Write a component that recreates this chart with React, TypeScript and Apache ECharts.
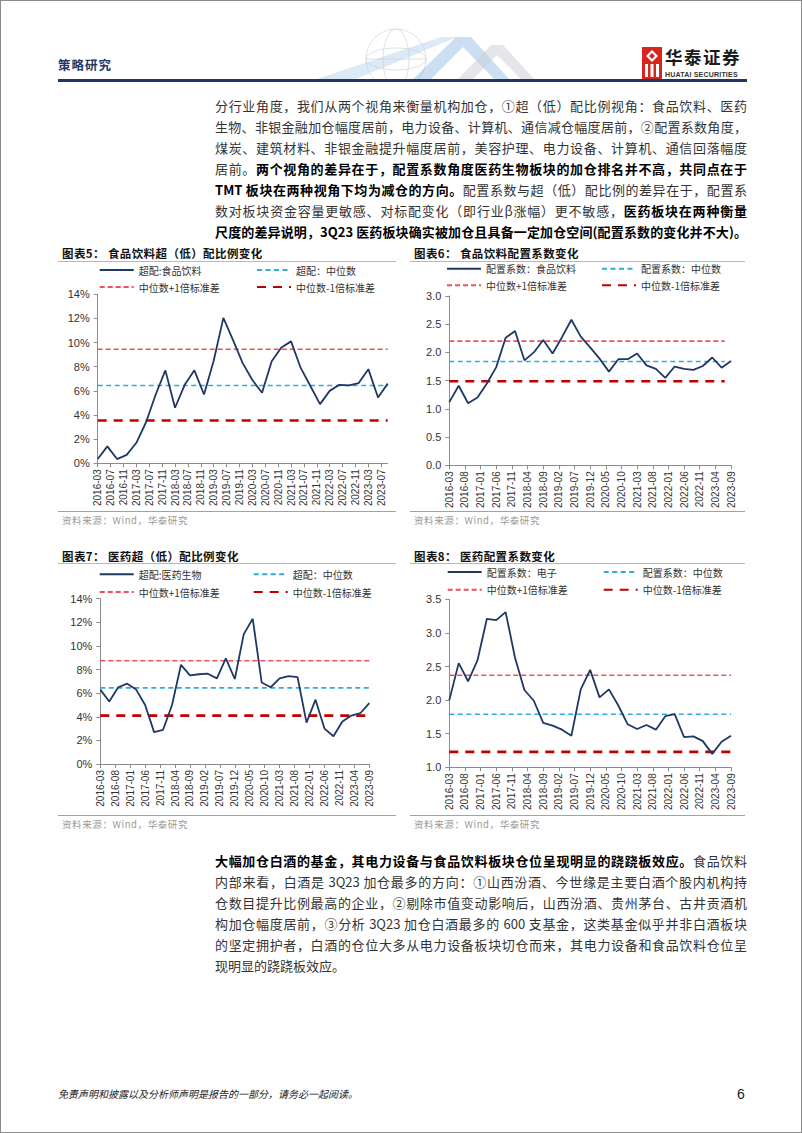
import React, { useEffect, useRef } from "react";
import * as echarts from "echarts";

// ---------------- data ----------------
const quarters = [
  "2016-03", "2016-06", "2016-09", "2016-12",
  "2017-03", "2017-06", "2017-09", "2017-12",
  "2018-03", "2018-06", "2018-09", "2018-12",
  "2019-03", "2019-06", "2019-09", "2019-12",
  "2020-03", "2020-06", "2020-09", "2020-12",
  "2021-03", "2021-06", "2021-09", "2021-12",
  "2022-03", "2022-06", "2022-09", "2022-12",
  "2023-03", "2023-06", "2023-09",
];

// 图表5 食品饮料超（低）配比例 (%)
const foodOverweight = [
  0.35, 1.4, 0.35, 0.7, 1.7, 3.4, 5.7, 7.7, 4.6, 6.5, 7.7, 5.7, 8.5, 12.05, 10.2, 8.3,
  6.9, 5.85, 8.45, 9.6, 10.1, 7.9, 6.4, 4.9, 6.0, 6.5, 6.45, 6.65, 7.8, 5.45, 6.6,
];
const foodOverweightRefs = [6.45, 9.45, 3.55]; // 中位数, +1σ, -1σ

// 图表6 食品饮料配置系数
const foodCoef = [
  1.12, 1.41, 1.1, 1.2, 1.45, 1.74, 2.26, 2.38, 1.86, 2.0, 2.22, 1.98, 2.27, 2.58, 2.28, 2.09,
  1.89, 1.66, 1.88, 1.88, 1.98, 1.77, 1.71, 1.55, 1.75, 1.71, 1.69, 1.76, 1.91, 1.73, 1.85,
];
const foodCoefRefs = [1.84, 2.2, 1.49];

// 图表7 医药超（低）配比例 (%)
const pharmaOverweight = [
  6.3, 5.3, 6.5, 6.8, 6.3, 5.0, 2.7, 2.9, 5.0, 8.4, 7.5, 7.6, 7.65, 7.25, 8.95, 7.2,
  11.0, 12.3, 6.9, 6.5, 7.25, 7.45, 7.35, 3.5, 5.45, 3.0, 2.35, 3.6, 4.1, 4.3, 5.15,
];
const pharmaOverweightRefs = [6.45, 8.75, 4.1];

// 图表8 医药配置系数
const pharmaCoef = [
  2.0, 2.55, 2.28, 2.59, 3.21, 3.19, 3.31, 2.63, 2.15, 1.99, 1.66, 1.62, 1.56, 1.47, 2.16, 2.45,
  2.04, 2.16, 1.92, 1.64, 1.57, 1.63, 1.56, 1.76, 1.79, 1.45, 1.46, 1.39, 1.2, 1.38, 1.47,
];
const pharmaCoefRefs = [1.79, 2.37, 1.23];

const legend5 = ["超配:食品饮料", "超配：中位数", "中位数+1倍标准差", "中位数-1倍标准差"];
const legend6 = ["配置系数：食品饮料", "配置系数：中位数", "中位数+1倍标准差", "中位数-1倍标准差"];
const legend7 = ["超配:医药生物", "超配：中位数", "中位数+1倍标准差", "中位数-1倍标准差"];
const legend8 = ["配置系数：电子", "配置系数：中位数", "中位数+1倍标准差", "中位数-1倍标准差"];

// monthly category axis 2016-03 … 2023-09
const months: string[] = [];
{
  let y = 2016;
  let m = 3;
  while (y < 2023 || (y === 2023 && m <= 9)) {
    months.push(`${y}-${String(m).padStart(2, "0")}`);
    m++;
    if (m > 12) {
      m = 1;
      y++;
    }
  }
}

// ---------------- styles ----------------
const NAVY = "#1F3864";
const LBLUE = "#2FAADF";
const PINK = "#F24F5A";
const DRED = "#C00000";
const FONT_CJK = '"Noto Sans CJK SC", "Noto Sans", sans-serif';
const FONT_NUM = '"Liberation Sans", Arial, sans-serif';

type ChartCfg = {
  box: number[];
  plot: number[];
  interval: number;
  yMin: number;
  yMax: number;
  yStep: number;
  pct: boolean;
  values: number[];
  refs: number[];
  names: string[];
  legendRows: number[];
  legendCols: number[];
  refEnd: string;
};

const charts: ChartCfg[] = [
  {
    box: [57, 256, 343, 252],
    plot: [96.7, 293.3, 386.7, 464.3],
    interval: 3, yMin: 0, yMax: 14, yStep: 2, pct: true,
    values: foodOverweight, refs: foodOverweightRefs, names: legend5,
    legendRows: [269, 286], legendCols: [97.7, 255], refEnd: "2023-09",
  },
  {
    box: [405, 256, 345, 254],
    plot: [448.3, 295, 730, 467.3],
    interval: 4, yMin: 0, yMax: 3, yStep: 0.5, pct: false,
    values: foodCoef, refs: foodCoefRefs, names: legend6,
    legendRows: [267.7, 284.3], legendCols: [445, 600], refEnd: "2023-07",
  },
  {
    box: [57, 562, 343, 250],
    plot: [99.3, 597.7, 368.3, 763],
    interval: 4, yMin: 0, yMax: 14, yStep: 2, pct: true,
    values: pharmaOverweight, refs: pharmaOverweightRefs, names: legend7,
    legendRows: [573.3, 591], legendCols: [97.7, 251.7], refEnd: "2023-09",
  },
  {
    box: [405, 562, 345, 250],
    plot: [448.3, 598.3, 730, 767.3],
    interval: 4, yMin: 1, yMax: 3.5, yStep: 0.5, pct: false,
    values: pharmaCoef, refs: pharmaCoefRefs, names: legend8,
    legendRows: [571, 588.7], legendCols: [445.7, 601.7], refEnd: "2023-09",
  },
];

function buildOption(c: ChartCfg) {
  const [bx, by, bw, bh] = c.box;
  const [pl, pt, pr, pb] = c.plot;
  const styles: any[] = [
    { color: NAVY, width: 1.8, type: "solid" },
    { color: LBLUE, width: 1.6, type: [5, 3.5] },
    { color: PINK, width: 1.6, type: [5, 3] },
    { color: DRED, width: 2.6, type: [9, 7] },
  ];
  const series = c.names.map((name, i) => ({
    name,
    type: "line",
    symbol: "none",
    showSymbol: false,
    silent: true,
    data:
      i === 0
        ? quarters.map((d, k) => [d, c.values[k]])
        : [
            [quarters[0], c.refs[i - 1]],
            [c.refEnd, c.refs[i - 1]],
          ],
    lineStyle: styles[i],
    itemStyle: { color: styles[i].color },
    z: i === 0 ? 5 : 3,
  }));
  const legend = c.names.map((name, i) => ({
    data: [name],
    left: c.legendCols[i % 2] - bx,
    top: c.legendRows[Math.floor(i / 2)] - by - 5,
    padding: 0,
    orient: "horizontal",
    itemWidth: 34,
    itemHeight: 10,
    selectedMode: false,
    itemStyle: { opacity: 0 },
    textStyle: { fontSize: 10, color: "#333", fontFamily: FONT_CJK },
  }));
  return {
    animation: false,
    backgroundColor: "transparent",
    legend,
    grid: { left: pl - bx, top: pt - by, right: bx + bw - pr, bottom: by + bh - pb, containLabel: false },
    xAxis: {
      type: "category",
      data: months,
      boundaryGap: false,
      axisLine: { show: true, lineStyle: { color: "#8c8c8c", width: 1 } },
      axisTick: { show: true, interval: c.interval, length: 4, lineStyle: { color: "#8c8c8c" } },
      axisLabel: {
        interval: c.interval,
        rotate: 90,
        fontSize: 10,
        color: "#333",
        fontFamily: FONT_NUM,
        margin: 6,
      },
      splitLine: { show: false },
    },
    yAxis: {
      type: "value",
      min: c.yMin,
      max: c.yMax,
      interval: c.yStep,
      axisLine: { show: true, lineStyle: { color: "#8c8c8c", width: 1 } },
      axisTick: { show: true, length: 4, lineStyle: { color: "#8c8c8c" } },
      axisLabel: {
        formatter: (v: number) => (c.pct ? `${v}%` : v.toFixed(1)),
        fontSize: 11,
        color: "#333",
        fontFamily: FONT_NUM,
        margin: 8,
      },
      splitLine: { show: false },
    },
    series,
  };
}

function LineChart({ cfg }: { cfg: ChartCfg }) {
  const ref = useRef<HTMLDivElement>(null);
  useEffect(() => {
    const chart = echarts.init(ref.current as HTMLDivElement, null, { renderer: "svg" });
    chart.setOption(buildOption(cfg) as any);
    return () => chart.dispose();
  }, [cfg]);
  return (
    <div
      ref={ref}
      style={{
        position: "absolute",
        left: cfg.box[0],
        top: cfg.box[1],
        width: cfg.box[2],
        height: cfg.box[3],
      }}
    />
  );
}

// ---------------- text helpers ----------------
const abs = (left: number, top: number, extra: React.CSSProperties = {}): React.CSSProperties => ({
  position: "absolute",
  left,
  top,
  ...extra,
});

function TextLine({ cy, children, justify = true }: { cy: number; children: React.ReactNode; justify?: boolean }) {
  return (
    <div
      style={abs(214, cy - 10.5, {
        width: 532,
        height: 21,
        lineHeight: "21px",
        fontSize: 13,
        fontFamily: FONT_CJK,
        color: "#333",
        textAlign: justify ? "justify" : "left",
        textAlignLast: justify ? "justify" : "left",
        whiteSpace: "nowrap",
      })}
    >
      {children}
    </div>
  );
}

const B = ({ children }: { children: React.ReactNode }) => (
  <span style={{ fontWeight: 700, color: "#000" }}>{children}</span>
);

function ChartFrame({ x, w, titleY, ruleY, bottomY, title }: { x: number; w: number; titleY: number; ruleY: number; bottomY: number; title: string }) {
  return (
    <>
      <div
        style={abs(x + 4, titleY - 8, {
          fontSize: 11.5,
          lineHeight: "16px",
          fontWeight: 700,
          fontFamily: FONT_CJK,
          color: "#111",
          whiteSpace: "nowrap",
          letterSpacing: 0.4,
        })}
      >
        {title}
      </div>
      <div style={abs(x, ruleY, { width: w, height: 1, background: "#A9BBDB" })} />
      <div style={abs(x, bottomY, { width: w, height: 1.5, background: "#8DA5CE" })} />
      <div
        style={abs(x + 4, bottomY + 2, {
          fontSize: 9.5,
          lineHeight: "14px",
          fontFamily: FONT_CJK,
          color: "#999",
          whiteSpace: "nowrap",
          letterSpacing: 0.6,
        })}
      >
        资料来源：Wind，华泰研究
      </div>
    </>
  );
}

export default function App() {
  const p1 = [104.5, 125.5, 146.5, 167.5, 188.5, 209.5, 230];
  const p2 = [859, 880, 901, 922, 943, 964];
  return (
    <div
      style={{
        position: "absolute",
        left: 0,
        top: 0,
        width: 802,
        height: 1133,
        background: "#fff",
        border: "1px solid #8a8a8a",
        boxSizing: "border-box",
        overflow: "hidden",
        fontFamily: FONT_CJK,
      }}
    >
      {/* header decoration */}
      <svg style={abs(290, 22, { width: 250, height: 58 })} viewBox="0 0 250 58">
        <g fill="none" stroke="#d4d8de" strokeWidth="0.8">
          <circle cx="105" cy="36" r="30" />
          <ellipse cx="105" cy="36" rx="30" ry="11" />
          <ellipse cx="105" cy="36" rx="13" ry="30" />
          <line x1="75" y1="36" x2="135" y2="36" />
        </g>
        <polygon points="20,58 150,14 166,14 60,58" fill="#B9D3EE" opacity="0.5" />
        <polygon points="120,58 165,14 180,14 220,58 205,58 172,24 138,58" fill="#7FB0DE" opacity="0.4" />
        <polygon points="165,58 200,22 212,22 245,58 232,58 206,32 180,58" fill="#C9CDD6" opacity="0.5" />
      </svg>
      <div
        style={abs(57, 55, {
          fontSize: 12.5,
          lineHeight: "18px",
          fontWeight: 700,
          color: NAVY,
          letterSpacing: 1,
        })}
      >
        策略研究
      </div>
      {/* logo */}
      <svg style={abs(641, 46, { width: 20, height: 33 })} viewBox="0 0 20 33">
        <rect x="0" y="0" width="20" height="33" fill="#D7261E" />
        <polygon points="10,3 16,9 10,15 4,9" fill="#fff" />
        <polygon points="10,6 13,9 10,12 7,9" fill="#D7261E" />
        <rect x="3" y="17" width="3" height="13" fill="#fff" />
        <rect x="8.5" y="17" width="3" height="13" fill="#fff" />
        <rect x="14" y="17" width="3" height="13" fill="#fff" />
      </svg>
      <div
        style={abs(664, 46, {
          fontSize: 17.5,
          lineHeight: "20px",
          fontWeight: 700,
          color: "#1a1a1a",
          letterSpacing: 1.5,
          whiteSpace: "nowrap",
        })}
      >
        华泰证券
      </div>
      <div
        style={abs(664, 69.5, {
          fontSize: 7,
          lineHeight: "8px",
          fontWeight: 700,
          fontFamily: FONT_NUM,
          color: "#333",
          letterSpacing: 0.2,
          whiteSpace: "nowrap",
        })}
      >
        HUATAI SECURITIES
      </div>
      <div style={abs(57, 78, { width: 689, height: 2.5, background: NAVY })} />

      {/* paragraph 1 */}
      <TextLine cy={p1[0]}>分行业角度，我们从两个视角来衡量机构加仓，①超（低）配比例视角：食品饮料、医药</TextLine>
      <TextLine cy={p1[1]}>生物、非银金融加仓幅度居前，电力设备、计算机、通信减仓幅度居前，②配置系数角度，</TextLine>
      <TextLine cy={p1[2]}>煤炭、建筑材料、非银金融提升幅度居前，美容护理、电力设备、计算机、通信回落幅度</TextLine>
      <TextLine cy={p1[3]}>
        居前。<B>两个视角的差异在于，配置系数角度医药生物板块的加仓排名并不高，共同点在于</B>
      </TextLine>
      <TextLine cy={p1[4]}>
        <B>TMT 板块在两种视角下均为减仓的方向。</B>配置系数与超（低）配比例的差异在于，配置系
      </TextLine>
      <TextLine cy={p1[5]}>
        数对板块资金容量更敏感、对标配变化（即行业β涨幅）更不敏感，<B>医药板块在两种衡量</B>
      </TextLine>
      <TextLine cy={p1[6]}>
        <B>尺度的差异说明，3Q23 医药板块确实被加仓且具备一定加仓空间(配置系数的变化并不大)。</B>
      </TextLine>

      {/* chart frames */}
      <ChartFrame x={57} w={338} titleY={252} ruleY={259.5} bottomY={509.5} title="图表5：  食品饮料超（低）配比例变化" />
      <ChartFrame x={409} w={335} titleY={252} ruleY={259.5} bottomY={509.5} title="图表6：  食品饮料配置系数变化" />
      <ChartFrame x={57} w={338} titleY={555} ruleY={561.5} bottomY={813.5} title="图表7：  医药超（低）配比例变化" />
      <ChartFrame x={409} w={335} titleY={555} ruleY={561.5} bottomY={813.5} title="图表8：  医药配置系数变化" />

      {charts.map((c, i) => (
        <LineChart key={i} cfg={c} />
      ))}

      {/* paragraph 2 */}
      <TextLine cy={p2[0]}>
        <B>大幅加仓白酒的基金，其电力设备与食品饮料板块仓位呈现明显的跷跷板效应。</B>食品饮料
      </TextLine>
      <TextLine cy={p2[1]}>内部来看，白酒是 3Q23 加仓最多的方向：①山西汾酒、今世缘是主要白酒个股内机构持</TextLine>
      <TextLine cy={p2[2]}>仓数目提升比例最高的企业，②剔除市值变动影响后，山西汾酒、贵州茅台、古井贡酒机</TextLine>
      <TextLine cy={p2[3]}>构加仓幅度居前，③分析 3Q23 加仓白酒最多的 600 支基金，这类基金似乎并非白酒板块</TextLine>
      <TextLine cy={p2[4]}>的坚定拥护者，白酒的仓位大多从电力设备板块切仓而来，其电力设备和食品饮料仓位呈</TextLine>
      <TextLine cy={p2[5]} justify={false}>
        现明显的跷跷板效应。
      </TextLine>

      {/* footer */}
      <div
        style={abs(57, 1086, {
          fontSize: 10,
          lineHeight: "14px",
          fontStyle: "italic",
          color: "#222",
          whiteSpace: "nowrap",
        })}
      >
        免责声明和披露以及分析师声明是报告的一部分，请务必一起阅读。
      </div>
      <div style={abs(736, 1085, { fontSize: 14, lineHeight: "16px", fontFamily: FONT_NUM, color: "#222" })}>6</div>
    </div>
  );
}
